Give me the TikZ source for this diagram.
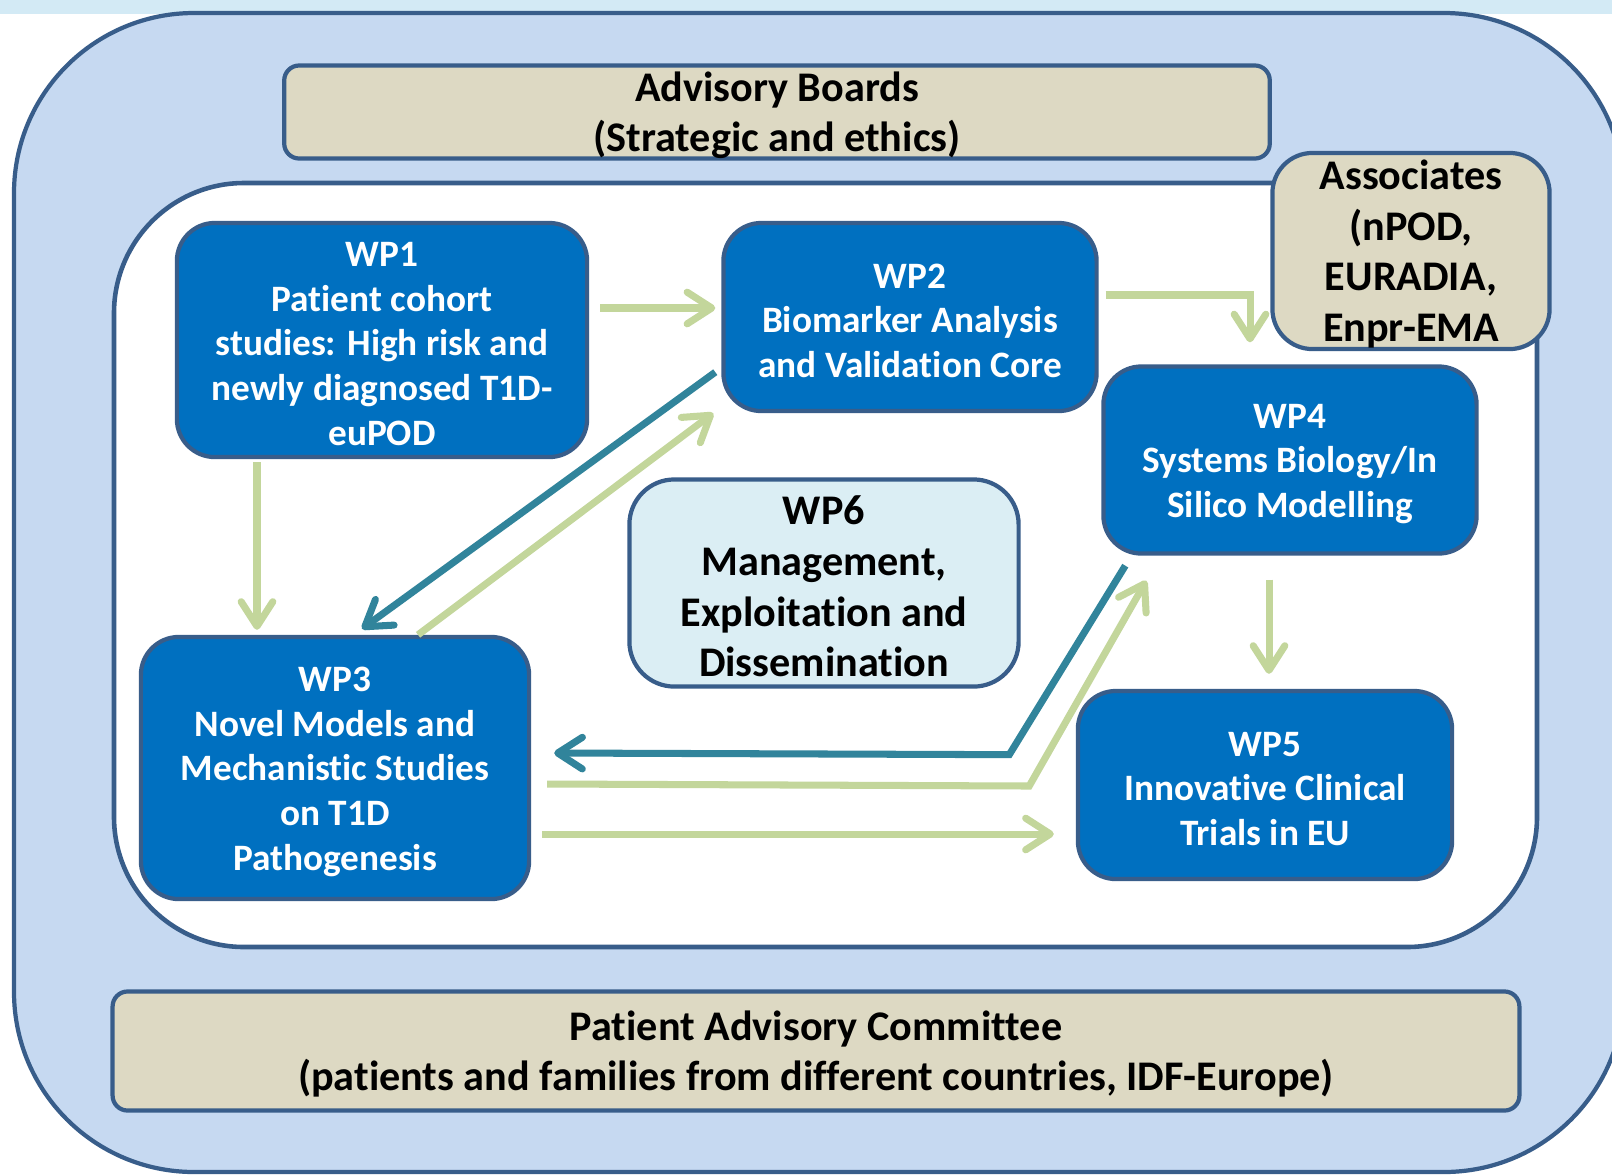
\documentclass[tikz,border=0pt]{standalone}
\usepackage{fontspec}
\setmainfont{Carlito}[Ligatures=NoCommon]
\usetikzlibrary{arrows.meta}
\usetikzlibrary{calc}

\definecolor{outerblue}{HTML}{C6D9F1}
\definecolor{edgeblue}{HTML}{385D8A}
\definecolor{wpblue}{HTML}{0070C0}
\definecolor{boardtan}{HTML}{DDD9C3}
\definecolor{paleblue}{HTML}{DBEEF4}
\definecolor{leaf}{HTML}{C3D69B}
\definecolor{linkteal}{HTML}{31849B}
\definecolor{bandblue}{HTML}{D3EAF5}

% taller first line, pushes the text a little down
\newcommand{\lift}{\rule{0pt}{0.85em}}

\begin{document}
\begin{tikzpicture}[x=0.01cm, y=-0.01cm,
  box/.style={draw=edgeblue, line width=1.2pt, align=center, inner xsep=0pt, inner ysep=-4pt},
  wp/.style={box, fill=wpblue, text=white, rounded corners=0.38cm,
    font=\bfseries\fontsize{10.6}{12.7}\selectfont},
  board/.style={box, fill=boardtan, font=\bfseries\fontsize{12}{14.4}\selectfont},
  flow/.style={leaf, line width=2pt, -{Straight Barb[length=7pt,width=9pt,round]}},
  back/.style={flow, linkteal}]
\clip (0,0) rectangle (1612,1175);
\fill[white] (0,0) rectangle (1612,1175);
\fill[bandblue] (0,0) rectangle (1612,14);

% frame
\draw[edgeblue, line width=1.2pt, fill=outerblue, rounded corners=1.8cm]
  (14,13) rectangle (1624,1172);
\node[board, rounded corners=0.15cm, minimum width=9.85cm, minimum height=0.93cm]
  (adv) at (777,112) {\lift Advisory Boards\\(Strategic and ethics)};
\draw[edgeblue, line width=1.3pt, fill=white, rounded corners=1.3cm]
  (114,183) rectangle (1537,947);
\node[board, rounded corners=0.4cm, minimum width=2.77cm, minimum height=1.96cm]
  (assoc) at (1411,251) {\lift Associates\\(nPOD,\\EURADIA,\\Enpr-EMA};
\node[board, rounded corners=0.15cm, minimum width=14.06cm, minimum height=1.19cm]
  (pac) at (816,1051) {\lift Patient Advisory Committee\\(patients and families from different countries, IDF-Europe)};

% work packages
\node[wp, minimum width=4.10cm, minimum height=2.34cm] (wp1) at (382,340)
  {\lift WP1\\Patient cohort\\studies: High risk and\\newly diagnosed T1D-\\euPOD};
\node[wp, minimum width=3.73cm, minimum height=1.88cm] (wp2) at (910,317)
  {\lift WP2\\Biomarker Analysis\\and Validation Core};
\node[wp, minimum width=3.73cm, minimum height=1.87cm] (wp4) at (1290,460)
  {\lift WP4\\Systems Biology/In\\Silico Modelling};
\node[box, fill=paleblue, rounded corners=0.45cm, minimum width=3.89cm, minimum height=2.07cm,
  font=\bfseries\fontsize{12}{14.4}\selectfont] (wp6) at (824,583)
  {\lift WP6\\Management,\\Exploitation and\\Dissemination};
\node[wp, minimum width=3.88cm, minimum height=2.62cm] (wp3) at (335,768)
  {\lift WP3\\Novel Models and\\Mechanistic Studies\\on T1D\\Pathogenesis};
\node[wp, minimum width=3.74cm, minimum height=1.88cm] (wp5) at (1265,785)
  {\lift WP5\\Innovative Clinical\\Trials in EU};

% links
\draw[flow] ($(wp1.east)+(11,-32)$) -- ($(wp2.west)+(-6,-9)$);
\draw[flow] ($(wp2.east)+(7,-22)$) -| ($(wp4.north)+(-40,-22)$);
\draw[flow] ($(wp1.south)+(-125,3)$) -- ($(wp3.north)+(-78,-5)$);
\draw[back] ($(wp2.south west)+(-6,-41)$) -- ($(wp3.north)+(27,-6)$);
\draw[flow] ($(wp3.north)+(83,0)$) -- ($(wp2.south west)+(-8,0)$);
\draw[flow] ($(wp4.south)+(-21,24)$) -- ($(wp5.north)+(4,-15)$);
\draw[back]
     ($(wp4.south west)+(24,10)$)
  -- ++(-116,189)
  -- ($(wp3.east)+(23,-15)$);
\draw[flow]
     ($(wp3.east)+(16,16)$)
  -- ++(482,2)
  -- ($(wp4.south west)+(45,25)$);
\draw[flow] ($(wp3.east)+(11,66)$) -- ($(wp5.west)+(-22,49)$);
\end{tikzpicture}
\end{document}
